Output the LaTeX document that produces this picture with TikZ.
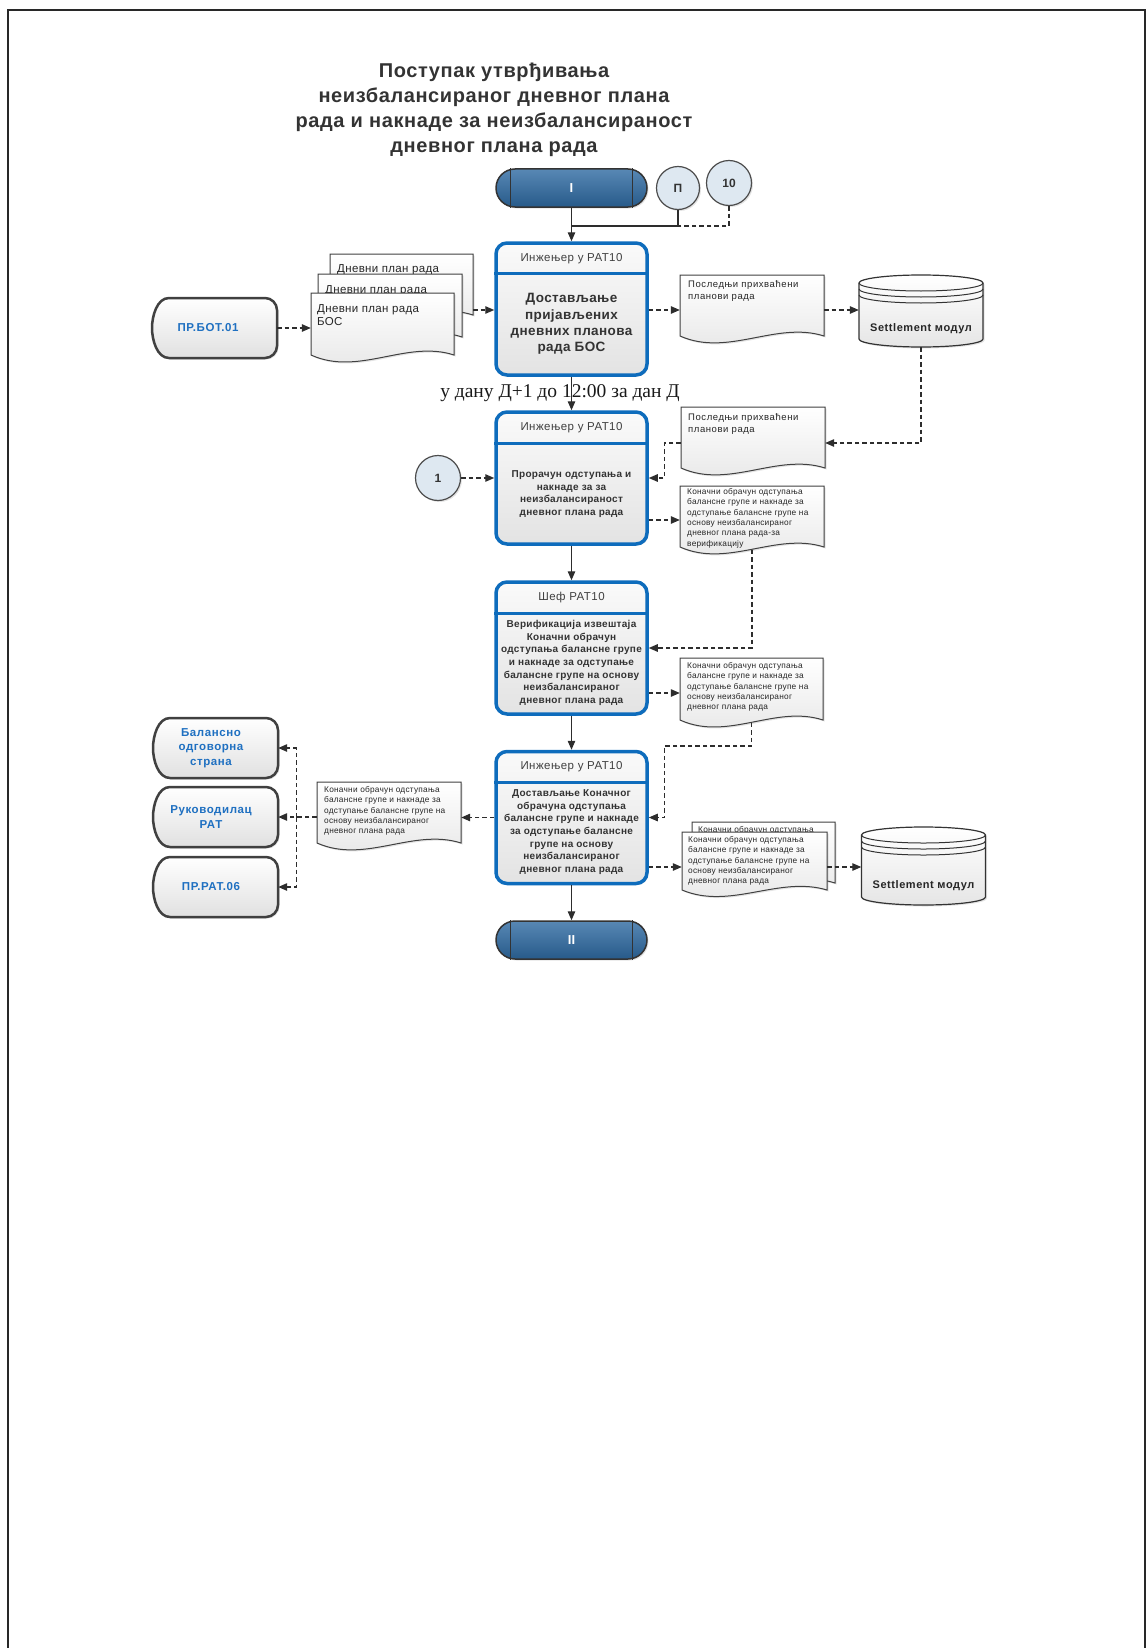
\documentclass[tikz,border=0pt]{standalone}
\usepackage{fontspec}
\setmainfont{Liberation Sans}
\newfontfamily\serifft{Liberation Serif}
\usetikzlibrary{arrows.meta,shadows,calc}
\definecolor{procblue}{RGB}{14,108,188}
\definecolor{termblue}{RGB}{46,106,162}
\definecolor{linkblue}{RGB}{31,112,193}
\definecolor{linecol}{RGB}{45,45,45}
\definecolor{circfill}{RGB}{222,232,241}
\definecolor{titlegray}{RGB}{51,51,51}
\definecolor{framecol}{RGB}{40,40,40}
\newcommand\lsp[1]{\addfontfeatures{LetterSpace=#1}}
\tikzset{
  conn/.style={draw=linecol, line width=1.2pt},
  dconn/.style={draw=linecol, line width=1.2pt, dash pattern=on 4.5pt off 3pt},
  arr/.style={-{Triangle[length=9pt,width=7.5pt]}},
  shd/.style={drop shadow={shadow xshift=1.5pt,shadow yshift=-1.5pt,opacity=0.22}},
  procbox/.style={draw=procblue, line width=3.5pt, rounded corners=11pt, top color=black!2, bottom color=black!11, minimum width=151pt, minimum height=132pt, inner sep=0pt, shd},
  hdr/.style={inner sep=0pt, text=black!75, font=\fontsize{11.5}{13}\selectfont\lsp{4}},
  bodybig/.style={inner sep=0pt, align=center, text=black!80, font=\bfseries\fontsize{13.5}{16.3}\selectfont\lsp{3}},
  bodysm/.style={inner sep=0pt, align=center, text=black!80, font=\bfseries\fontsize{10}{12.7}\selectfont\lsp{3}},
  termbox/.style={draw=black!80, line width=1.5pt, rounded corners=19pt, top color=termblue!80!white, bottom color=termblue!85!black, minimum width=151pt, minimum height=38pt, inner sep=0pt, text=white, font=\bfseries\fontsize{13}{15}\selectfont, shd},
  circ/.style={circle, draw=black!70, line width=1.2pt, fill=circfill, minimum size=43pt, inner sep=0pt, text=black!80, font=\bfseries\fontsize{12}{14}\selectfont, shd},
  docst/.style={draw=black!75, line width=1pt, top color=white, bottom color=black!10, shd},
  cylst/.style={draw=black!80, line width=1.2pt, top color=white, bottom color=black!10, shd},
  termst/.style={draw=black!75, line width=2.5pt, top color=white, bottom color=black!12, shd},
  termtext/.style={inner sep=0pt, align=center, text=linkblue, font=\bfseries\fontsize{11.5}{14.5}\selectfont\lsp{5}},
  dtA/.style={inner sep=0pt, align=left, anchor=north west, text=black!85, font=\fontsize{11.5}{13}\selectfont\lsp{3}},
  dtB/.style={inner sep=0pt, align=left, anchor=north west, text=black!85, font=\fontsize{9.5}{12}\selectfont\lsp{6}},
  dtC/.style={inner sep=0pt, align=left, anchor=north west, text=black!85, font=\fontsize{8.3}{10.4}\selectfont\lsp{3}},
  cyltext/.style={inner sep=0pt, text=black!85, font=\bfseries\fontsize{11}{13}\selectfont\lsp{5}},
}
% document shape: name, x, y, w, h
\newcommand\docshape[5]{%
  \path[docst] (#2,#3) -- ({#2+#4},#3) -- ({#2+#4},{#3+#5})
     .. controls ({#2+0.667*#4},{#3+0.75*#5}) and ({#2+0.333*#4},{#3+1.35*#5}) .. (#2,{#3+#5}) -- cycle;
  \node[inner sep=0pt, minimum width={#4*1pt}, minimum height={#5*1.04pt}] (#1) at ({#2+#4/2},{#3+#5*0.52}) {};
}
% cylinder: name, cx, top, bottom
\newcommand\cylshape[4]{%
  \path[cylst] ({#2-62},{#3+8}) -- ({#2-62},{#4-8})
    .. controls ({#2-62},{#4-3.6}) and ({#2-34.2},#4) .. (#2,#4)
    .. controls ({#2+34.2},#4) and ({#2+62},{#4-3.6}) .. ({#2+62},{#4-8})
    -- ({#2+62},{#3+8})
    .. controls ({#2+62},{#3+3.6}) and ({#2+34.2},#3) .. (#2,#3)
    .. controls ({#2-34.2},#3) and ({#2-62},{#3+3.6}) .. ({#2-62},{#3+8}) -- cycle;
  \foreach \k in {0,6,12}{
    \draw[black!80, line width=1pt] ({#2-62},{#3+8+\k}) .. controls ({#2-62},{#3+12.4+\k}) and ({#2-34.2},{#3+16+\k}) .. (#2,{#3+16+\k}) .. controls ({#2+34.2},{#3+16+\k}) and ({#2+62},{#3+12.4+\k}) .. ({#2+62},{#3+8+\k});
  }
  \node[inner sep=0pt, minimum width=124pt, minimum height={(#4-#3)*1pt}] (#1) at (#2,{(#3+#4)/2}) {};
}
% terminal (external) shape: name, x1, y1, x2, y2
\newcommand\termshape[5]{%
  \path[termst] ({#2+17},#3) -- ({#4-12},#3) .. controls ({#4-5.4},#3) and (#4,{#3+5.4}) .. (#4,{#3+12})
    -- (#4,{#5-12}) .. controls (#4,{#5-5.4}) and ({#4-5.4},#5) .. ({#4-12},#5)
    -- ({#2+17},#5) .. controls ({#2+5},#5) and (#2,{(#3+#5)/2+12}) .. (#2,{(#3+#5)/2})
    .. controls (#2,{(#3+#5)/2-12}) and ({#2+5},#3) .. ({#2+17},#3) -- cycle;
  \node[inner sep=0pt, minimum width={(#4-#2)*1pt}, minimum height={(#5-#3)*1pt}] (#1) at ({(#2+#4)/2},{(#3+#5)/2}) {};
}
\begin{document}
\begin{tikzpicture}[x=1pt,y=-1pt]
\useasboundingbox (0,0) rectangle (1146,1648);
\draw[framecol, line width=2.2pt] (8,1700) -- (8,10) -- (1145,10) -- (1145,1700);

% title
\node[inner sep=0pt, align=center, text=titlegray, font=\bfseries\fontsize{20}{25}\selectfont\lsp{3}] (title) at (494,110)
  {Поступак утврђивања\\неизбалансираног дневног плана\\рада и накнаде за неизбалансираност\\дневног плана рада};

% start terminator and small connectors
\node[termbox] (t1) at (571.5,188) {I};
\draw[black!80, line width=1.3pt] ([xshift=15pt]t1.north west) -- ([xshift=15pt]t1.south west);
\draw[black!80, line width=1.3pt] ([xshift=-15pt]t1.north east) -- ([xshift=-15pt]t1.south east);
\node[circ] (cP) at (678,188) {П};
\node[circ, minimum size=45pt] (c10) at (729,183) {10};

% process boxes
\node[procbox] (b1) at (571.5,309) {};
\draw[procblue, line width=3pt] (b1.west |- 0,273) -- (b1.east |- 0,273);
\node[hdr] (b1h) at (571.5,258.5) {Инжењер у РАТ10};
\node[bodybig] (b1t) at (571.5,324) {Достављање\\пријављених\\дневних планова\\рада БОС};

\node[procbox] (b2) at (571.5,478) {};
\draw[procblue, line width=3pt] (b2.west |- 0,443) -- (b2.east |- 0,443);
\node[hdr] (b2h) at (571.5,428) {Инжењер у РАТ10};
\node[bodysm] (b2t) at (571.5,494) {Прорачун одступања и\\накнаде за за\\неизбалансираност\\дневног плана рада};

\node[procbox] (b3) at (571.5,648) {};
\draw[procblue, line width=3pt] (b3.west |- 0,613) -- (b3.east |- 0,613);
\node[hdr] (b3h) at (571.5,597.5) {Шеф РАТ10};
\node[bodysm] (b3t) at (571.5,663) {Верификација извештаја\\Коначни обрачун\\одступања балансне групе\\и накнаде за одступање\\балансне групе на основу\\неизбалансираног\\дневног плана рада};

\node[procbox] (b4) at (571.5,817.5) {};
\draw[procblue, line width=3pt] (b4.west |- 0,782) -- (b4.east |- 0,782);
\node[hdr] (b4h) at (571.5,767) {Инжењер у РАТ10};
\node[bodysm] (b4t) at (571.5,832) {Достављање Коначног\\обрачуна одступања\\балансне групе и накнаде\\за одступање балансне\\групе на основу\\неизбалансираног\\дневног плана рада};

\node[termbox] (t2) at (571.5,940) {II};
\draw[black!80, line width=1.3pt] ([xshift=15pt]t2.north west) -- ([xshift=15pt]t2.south west);
\draw[black!80, line width=1.3pt] ([xshift=-15pt]t2.north east) -- ([xshift=-15pt]t2.south east);

\node[circ, minimum size=45pt] (c1) at (438,478) {1};

% terminals (external)
\termshape{pb}{152}{298}{277}{358}
\node[termtext] (pbt) at (208,328) {ПР.БОТ.01};
\termshape{r1}{153}{718}{278}{778}
\node[termtext] (r1t) at (211,748) {Балансно\\одговорна\\страна};
\termshape{r2}{153}{787}{278}{847}
\node[termtext] (r2t) at (211,817) {Руководилац\\РАТ};
\termshape{r3}{153}{857}{278}{917}
\node[termtext] (r3t) at (211,887) {ПР.РАТ.06};

% documents
\docshape{bd1}{330}{254}{143}{61}
\node[dtA] (bd1t) at (337,264) {Дневни план рада};
\docshape{md1}{318}{274}{144}{63}
\node[dtA] (md1t) at (325,285) {Дневни план рада};
\docshape{fd1}{311}{293}{143}{62}
\node[dtA] (fd1t) at (317,304) {Дневни план рада\\БОС};

\docshape{p1}{680}{275}{144}{61}
\node[dtB] (p1t) at (688,280) {Последњи прихваћени\\планови рада};
\docshape{p2}{681}{407}{144}{61}
\node[dtB] (p2t) at (688,413) {Последњи прихваћени\\планови рада};
\docshape{p3}{680}{486}{144}{61}
\node[dtC] (p3t) at (687,488) {Коначни обрачун одступања\\балансне групе и накнаде за\\одступање балансне групе на\\основу неизбалансираног\\дневног плана рада-за\\верификацију};
\docshape{p4}{680}{658}{143}{62}
\node[dtC] (p4t) at (687,662) {Коначни обрачун одступања\\балансне групе и накнаде за\\одступање балансне групе на\\основу неизбалансираног\\дневног плана рада};
\docshape{bp5}{692}{822}{143}{61}
\node[dtC] (bp5t) at (698,826) {Коначни обрачун одступања};
\docshape{fp5}{682}{832}{145}{58}
\node[dtC] (fp5t) at (688,836) {Коначни обрачун одступања\\балансне групе и накнаде за\\одступање балансне групе на\\основу неизбалансираног\\дневног плана рада};
\docshape{p6}{317}{782}{144}{61}
\node[dtC] (p6t) at (324,786) {Коначни обрачун одступања\\балансне групе и накнаде за\\одступање балансне групе на\\основу неизбалансираног\\дневног плана рада};

% databases
\cylshape{s1}{921}{275}{347}
\node[cyltext] (s1t) at (921,329) {Settlement модул};
\cylshape{s2}{923.5}{827}{905}
\node[cyltext] (s2t) at (923.5,886) {Settlement модул};

% connectors
\draw[dconn] (c10.south) -- (c10.south |- 0,226) -- (b1.north |- 0,226);
\draw[conn] (cP.south) -- (cP.south |- 0,226) -- (b1.north |- 0,226);
\draw[conn, arr] (t1.south) -- (b1.north);

\draw[dconn, arr] (pb.east) -- (pb.east -| fd1.west);
\draw[dconn, arr] (bd1.east |- 0,310) -- (b1.west |- 0,310);
\draw[dconn, arr] (b1.east |- 0,310) -- (p1.west |- 0,310);
\draw[dconn, arr] (p1.east |- 0,310) -- (s1.west |- 0,310);
\draw[dconn, arr] (s1.south) -- (s1.south |- 0,443) -- (p2.east |- 0,443);

\draw[conn, arr] (b1.south) -- (b2.north);
\node[inner sep=0pt, anchor=base, text=black!90, font=\serifft\fontsize{19.5}{22}\selectfont] (lbl) at (560,397) {у дану Д+1 до 12:00 за дан Д};

\draw[dconn, arr] (c1.east) -- (b2.west);
\draw[dconn, arr] (p2.west |- 0,443) -| ($(b2.east)+(16,0)$) -- (b2.east);
\draw[dconn, arr] (b2.east |- 0,520) -- (p3.west |- 0,520);
\draw[dconn, arr] (p3.south) -- (p3.south |- b3.east) -- (b3.east);
\draw[conn, arr] (b2.south) -- (b3.north);
\draw[dconn, arr] (b3.east |- 0,693) -- (p4.west |- 0,693);
\draw[dconn, arr] (p4.south) -- (p4.south |- 0,746) -| ($(b4.east)+(16,0)$) -- (b4.east);
\draw[conn, arr] (b3.south) -- (b4.north);
\draw[dconn, arr] (b4.east |- 0,867) -- (fp5.west |- 0,867);
\draw[dconn, arr] (fp5.east |- 0,867) -- (s2.west |- 0,867);
\draw[dconn, arr] (b4.west) -- (b4.west -| p6.east);
\coordinate (jn) at ($(r2.east)+(18,0)$);
\draw[dconn, arr] (p6.west |- r2.east) -- (r2.east);
\draw[dconn, arr] (jn) |- (r1.east);
\draw[dconn, arr] (jn) |- (r3.east);
\draw[conn, arr] (b4.south) -- (t2.north);
\end{tikzpicture}
\end{document}
